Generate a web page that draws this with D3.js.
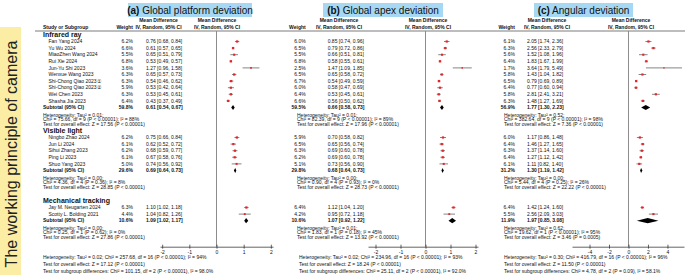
<!DOCTYPE html>
<html>
<head>
<meta charset="utf-8">
<script src="https://cdn.jsdelivr.net/npm/d3@7"></script>
<style>
body { margin: 0; background: #fff; }
svg text { font-family: "Liberation Sans", Arial, sans-serif; fill: #111; }
</style>
</head>
<body>
<div id="chart"></div>
<script>
// groups and studies (shared by all three panels)
const groups = ["Infrared ray", "Visible light", "Mechanical tracking"];
const studyNames = [
  ["Fan Yang 2024", "Yu Wu 2024", "MiaoZhen Wang 2024", "Rui Xie 2024", "Jun-Yu Shi 2023",
   "Wenxue Wang 2023", "Shi-Chong Qiao 2023①", "Shi-Chong Qiao 2023②", "Wei Chen 2023", "Shasha Jia 2023"],
  ["Ningbo Zhao 2024", "Jun Li 2024", "Sihui Zhang 2023", "Ping Li 2023", "Shuo Yang 2023"],
  ["Jay M. Neugarten 2024", "Scotty L. Bolding 2021"]
];

// (a) global platform deviation
const platformWeight = [[6.2, 6.6, 5.5, 6.8, 3.6, 6.3, 6.3, 5.9, 6.3, 6.4], [6.2, 6.1, 6.2, 6.1, 5.0], [6.3, 4.4]];
const platformMean = [[0.76, 0.61, 0.65, 0.53, 1.27, 0.65, 0.54, 0.53, 0.53, 0.43], [0.75, 0.62, 0.68, 0.67, 0.74], [1.10, 1.04]];
const platformLow = [[0.68, 0.57, 0.51, 0.49, 0.96, 0.57, 0.46, 0.42, 0.45, 0.37], [0.66, 0.52, 0.59, 0.58, 0.56], [1.02, 0.82]];
const platformHigh = [[0.84, 0.65, 0.79, 0.57, 1.58, 0.73, 0.62, 0.64, 0.61, 0.49], [0.84, 0.72, 0.77, 0.76, 0.92], [1.18, 1.26]];
const platformSub = [[59.8, 0.61, 0.54, 0.67], [29.6, 0.69, 0.64, 0.73], [10.6, 1.09, 1.02, 1.17]];
const platformHet = [
  ["Heterogeneity: Tau² = 0.01;", "Chi² = 75.66, df = 9 (P < 0.00001); I² = 88%", "Test for overall effect: Z = 17.56 (P < 0.00001)"],
  ["Heterogeneity: Tau² = 0.00;", "Chi² = 4.36, df = 4 (P = 0.36); I² = 8%", "Test for overall effect: Z = 28.85 (P < 0.00001)"],
  ["Heterogeneity: Tau² = 0.00;", "Chi² = 0.25, df = 1 (P = 0.62); I² = 0%", "Test for overall effect: Z = 27.86 (P < 0.00001)"]
];
const platformOverall = [
  "Heterogeneity: Tau² = 0.02; Chi² = 257.68, df = 16 (P < 0.00001); I² = 94%",
  "Test for overall effect: Z = 17.12 (P < 0.00001)",
  "Test for subgroup differences: Chi² = 101.15, df = 2 (P < 0.00001), I² = 98.0%"
];

// (b) global apex deviation
const apexWeight = [[6.0, 6.5, 5.5, 6.8, 2.5, 6.5, 6.7, 6.0, 6.4, 6.6], [5.9, 6.5, 6.3, 6.2, 5.1], [6.4, 4.2]];
const apexMean = [[0.85, 0.79, 0.66, 0.58, 1.47, 0.65, 0.54, 0.58, 0.53, 0.56], [0.70, 0.65, 0.69, 0.69, 0.73], [1.12, 0.95]];
const apexLow = [[0.74, 0.72, 0.51, 0.55, 1.09, 0.58, 0.49, 0.47, 0.45, 0.50], [0.58, 0.56, 0.60, 0.60, 0.56], [1.04, 0.72]];
const apexHigh = [[0.96, 0.86, 0.81, 0.61, 1.85, 0.72, 0.59, 0.69, 0.61, 0.62], [0.82, 0.74, 0.78, 0.78, 0.90], [1.20, 1.18]];
const apexSub = [[59.5, 0.66, 0.58, 0.73], [29.8, 0.68, 0.64, 0.73], [10.6, 1.07, 0.92, 1.22]];
const apexHet = [
  ["Heterogeneity: Tau² = 0.01;", "Chi² = 82.39, df = 9 (P < 0.00001); I² = 89%", "Test for overall effect: Z = 17.96 (P < 0.00001)"],
  ["Heterogeneity: Tau² = 0.00;", "Chi² = 0.90, df = 4 (P = 0.93); I² = 0%", "Test for overall effect: Z = 28.73 (P < 0.00001)"],
  ["Heterogeneity: Tau² = 0.01;", "Chi² = 1.83, df = 1 (P = 0.18); I² = 45%", "Test for overall effect: Z = 13.92 (P < 0.00001)"]
];
const apexOverall = [
  "Heterogeneity: Tau² = 0.02; Chi² = 234.96, df = 16 (P < 0.00001); I² = 93%",
  "Test for overall effect: Z = 18.24 (P < 0.00001)",
  "Test for subgroup differences: Chi² = 25.11, df = 2 (P < 0.00001), I² = 92.0%"
];

// (c) angular deviation
const angleWeight = [[6.1, 6.3, 5.6, 6.4, 1.7, 5.8, 6.5, 6.4, 5.8, 6.3], [6.0, 6.4, 6.3, 6.4, 6.1], [6.4, 5.5]];
const angleMean = [[2.05, 2.56, 1.52, 1.83, 3.64, 1.43, 0.79, 0.77, 2.81, 1.48], [1.17, 1.46, 1.37, 1.27, 1.11], [1.42, 2.56]];
const angleLow = [[1.74, 2.33, 1.08, 1.67, 1.79, 1.04, 0.69, 0.60, 2.41, 1.27], [0.86, 1.27, 1.14, 1.12, 0.82], [1.24, 2.09]];
const angleHigh = [[2.36, 2.79, 1.96, 1.99, 5.49, 1.82, 0.89, 0.94, 3.21, 1.69], [1.48, 1.65, 1.60, 1.42, 1.40], [1.60, 3.03]];
const angleSub = [[56.9, 1.77, 1.30, 2.23], [31.2, 1.30, 1.19, 1.42], [11.9, 1.97, 0.85, 3.08]];
const angleHet = [
  ["Heterogeneity: Tau² = 0.52;", "Chi² = 382.64, df = 9 (P < 0.00001); I² = 98%", "Test for overall effect: Z = 7.36 (P < 0.00001)"],
  ["Heterogeneity: Tau² = 0.00;", "Chi² = 5.44, df = 4 (P = 0.25); I² = 26%", "Test for overall effect: Z = 22.22 (P < 0.00001)"],
  ["Heterogeneity: Tau² = 0.62;", "Chi² = 19.62, df = 1 (P < 0.00001); I² = 95%", "Test for overall effect: Z = 3.46 (P = 0.0005)"]
];
const angleOverall = [
  "Heterogeneity: Tau² = 0.30; Chi² = 416.79, df = 16 (P < 0.00001); I² = 96%",
  "Test for overall effect: Z = 11.50 (P < 0.00001)",
  "Test for subgroup differences: Chi² = 4.78, df = 2 (P = 0.09), I² = 58.1%"
];

const axisTicksAB = [-2, -1, 0, 1, 2];
const axisTicksC = [-4, -2, 0, 2, 4];

// layout
const width = 685, height = 276;
const headerLineY = 31, axisY = 246.7;
const groupY = [35, 131, 201];
const rowStep = 6.6;
const overallY = [257.5, 264.2, 270.9];

const panels = [
  { tag: "(a)", title: " Global platform deviation", box: [128, 252], weightX: 133, mdX: 146, mdHeadX: 158.5, hetX: 43, totX: 43,
    plotHeadX: 217, domain: [-2.08, 2.08], range: [160, 273], ticks: axisTicksAB,
    weight: platformWeight, mean: platformMean, low: platformLow, high: platformHigh, sub: platformSub, het: platformHet, overall: platformOverall },
  { tag: "(b)", title: " Global apex deviation", box: [323, 443], weightX: 305.7, mdX: 327.7, mdHeadX: 339, hetX: 297, totX: 299,
    plotHeadX: 428, domain: [-2.3, 2.1], range: [368, 478], ticks: axisTicksAB,
    weight: apexWeight, mean: apexMean, low: apexLow, high: apexHigh, sub: apexSub, het: apexHet, overall: apexOverall },
  { tag: "(c)", title: " Angular deviation", box: [534, 633], weightX: 515, mdX: 527, mdHeadX: 547, hetX: 504, totX: 504,
    plotHeadX: 631, domain: [-5.8, 5.7], range: [572, 684], ticks: axisTicksC,
    weight: angleWeight, mean: angleMean, low: angleLow, high: angleHigh, sub: angleSub, het: angleHet, overall: angleOverall }
];

// row positions
const rows = [];
groups.forEach((g, gi) => {
  const y0 = groupY[gi];
  rows.push({ kind: "group", gi, y: y0 });
  studyNames[gi].forEach((n, si) => rows.push({ kind: "study", gi, si, y: y0 + 6.5 + si * rowStep }));
  const subY = y0 + 6.5 + studyNames[gi].length * rowStep;
  rows.push({ kind: "sub", gi, y: subY });
  for (let k = 0; k < 3; k++) rows.push({ kind: "het", gi, k, y: subY + 7.4 + k * 4.5 });
});

const svg = d3.select("#chart").append("svg")
  .attr("width", width)
  .attr("height", height);

// yellow side label
svg.append("rect")
  .attr("x", 0).attr("y", 27).attr("width", 21).attr("height", 248)
  .attr("fill", "#fbeea4");
svg.append("text")
  .attr("transform", "translate(17,154) rotate(-90)")
  .attr("text-anchor", "middle")
  .style("font-size", "16px")
  .style("fill", "#222")
  .text("The working principle of camera");

// header line under column titles
svg.append("line")
  .attr("x1", 35).attr("x2", width).attr("y1", headerLineY).attr("y2", headerLineY)
  .attr("stroke", "#222").attr("stroke-width", 0.6);

function txt(g, x, y, s, size, opts = {}) {
  return g.append("text")
    .attr("x", x).attr("y", y).attr("dy", "0.35em")
    .attr("text-anchor", opts.anchor || "start")
    .style("font-size", size + "px")
    .style("font-weight", opts.bold ? "bold" : null)
    .text(s);
}

// study names column
const names = svg.append("g");
txt(names, 43, 27, "Study or Subgroup", 5, { bold: true });
rows.forEach(r => {
  if (r.kind === "group") txt(names, 43, r.y, groups[r.gi], 7, { bold: true });
  if (r.kind === "study") txt(names, 48.5, r.y, studyNames[r.gi][r.si], 5);
  if (r.kind === "sub") txt(names, 43, r.y, "Subtotal (95% CI)", 5, { bold: true });
});

const fmt = d3.format(".2f");
const fmtW = d3.format(".1f");
const ciText = (m, l, h) => `${fmt(m)} [${fmt(l)}, ${fmt(h)}]`;

panels.forEach(p => {
  const g = svg.append("g");
  const x = d3.scaleLinear().domain(p.domain).range(p.range);

  // title
  g.append("rect")
    .attr("x", p.box[0]).attr("y", 3).attr("width", p.box[1] - p.box[0]).attr("height", 14)
    .attr("fill", "#a6d8f4");
  const t = g.append("text")
    .attr("x", (p.box[0] + p.box[1]) / 2).attr("y", 13.8)
    .attr("text-anchor", "middle")
    .style("font-size", "10px");
  t.append("tspan").style("font-weight", "bold").text(p.tag);
  t.append("tspan").text(p.title);

  // column headers
  txt(g, p.weightX, 27, "Weight", 5, { anchor: "end", bold: true });
  txt(g, p.mdHeadX, 20.5, "Mean Difference", 5, { anchor: "middle", bold: true });
  txt(g, p.mdHeadX, 27, "IV, Random, 95% CI", 5, { anchor: "middle", bold: true });
  txt(g, p.plotHeadX, 20.5, "Mean Difference", 5, { anchor: "middle", bold: true });
  txt(g, p.plotHeadX, 27, "IV, Random, 95% CI", 5, { anchor: "middle", bold: true });

  // zero line
  g.append("line")
    .attr("x1", x(0)).attr("x2", x(0)).attr("y1", headerLineY).attr("y2", axisY)
    .attr("stroke", "#8c8c8c").attr("stroke-width", 1);

  rows.forEach(r => {
    if (r.kind === "study") {
      const w = p.weight[r.gi][r.si], m = p.mean[r.gi][r.si];
      const lo = p.low[r.gi][r.si], hi = p.high[r.gi][r.si];
      txt(g, p.weightX, r.y, fmtW(w) + "%", 5, { anchor: "end" });
      txt(g, p.mdX, r.y, ciText(m, lo, hi), 5);
      g.append("line")
        .attr("x1", x(lo)).attr("x2", x(hi)).attr("y1", r.y).attr("y2", r.y)
        .attr("stroke", "#333").attr("stroke-width", 0.6);
      const s = 1 + w * 0.2;
      g.append("rect")
        .attr("x", x(m) - s / 2).attr("y", r.y - s / 2).attr("width", s).attr("height", s)
        .attr("fill", "#e4262b");
    }
    if (r.kind === "sub") {
      const [w, m, lo, hi] = p.sub[r.gi];
      txt(g, p.weightX, r.y, fmtW(w) + "%", 5, { anchor: "end", bold: true });
      txt(g, p.mdX, r.y, ciText(m, lo, hi), 5, { bold: true });
      g.append("path")
        .attr("d", `M${x(lo)},${r.y} L${x(m)},${r.y - 2.6} L${x(hi)},${r.y} L${x(m)},${r.y + 2.6} Z`)
        .attr("fill", "#000");
    }
    if (r.kind === "het") txt(g, p.hetX, r.y, p.het[r.gi][r.k], 5);
  });

  // axis
  const axis = g.append("g")
    .attr("transform", `translate(0,${axisY})`)
    .call(d3.axisBottom(x).tickValues(p.ticks).tickSizeOuter(0).tickSizeInner(2).tickPadding(1.6)
      .tickFormat(d => String(d)));
  axis.select(".domain").attr("stroke", "#222").attr("stroke-width", 0.7);
  axis.selectAll(".tick line").attr("y1", -2).attr("y2", 2).attr("stroke", "#222").attr("stroke-width", 0.7);
  axis.selectAll(".tick text").style("font-size", "5px").style("font-family", "Liberation Sans, Arial, sans-serif");

  // overall statistics
  p.overall.forEach((s, i) => txt(g, p.totX, overallY[i], s, 5));
});
</script>
</body>
</html>
